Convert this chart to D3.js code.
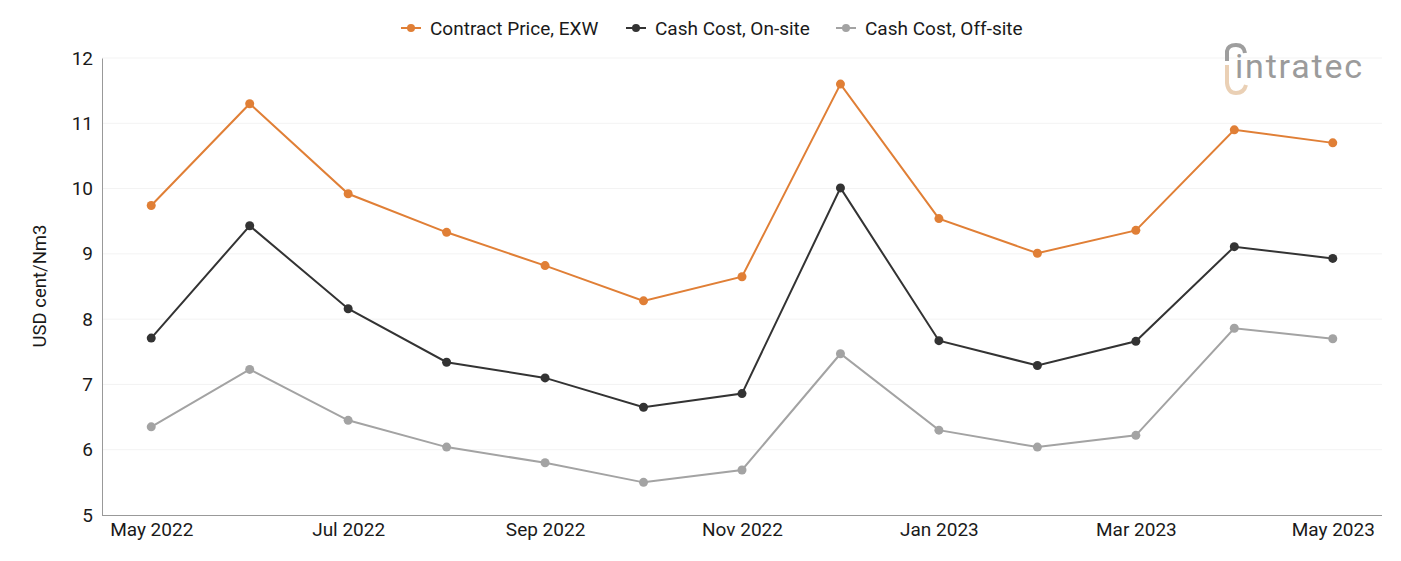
<!DOCTYPE html>
<html><head><meta charset="utf-8">
<script src="https://cdn.jsdelivr.net/npm/d3@7"></script>
<style>body{margin:0;background:#fff;font-family:Roboto,"Open Sans",sans-serif;}</style>
</head><body><svg id="c" width="1401" height="561"></svg>
<script>
const months = ["May 2022","Jun 2022","Jul 2022","Aug 2022","Sep 2022","Oct 2022","Nov 2022","Dec 2022","Jan 2023","Feb 2023","Mar 2023","Apr 2023","May 2023"];
const contractPrice = [9.74,11.30,9.92,9.33,8.82,8.28,8.65,11.60,9.54,9.01,9.36,10.90,10.70];
const cashOnSite = [7.71,9.43,8.16,7.34,7.10,6.65,6.86,10.01,7.67,7.29,7.66,9.11,8.93];
const cashOffSite = [6.35,7.23,6.45,6.04,5.80,5.50,5.69,7.47,6.30,6.04,6.22,7.86,7.70];
const seriesNames = ["Contract Price, EXW","Cash Cost, On-site","Cash Cost, Off-site"];
const seriesColors = ["#e07f36","#333333","#a3a3a3"];
const yTicks = [5,6,7,8,9,10,11,12];
const xTickLabels = ["May 2022","Jul 2022","Sep 2022","Nov 2022","Jan 2023","Mar 2023","May 2023"];

const svg = d3.select("#c");
const m = {l:102, r:1382, t:58, b:515};
const x = d3.scalePoint().domain(months).range([m.l, m.r]).padding(0.5);
const y = d3.scaleLinear().domain([5,12]).range([m.b, m.t]);
const txt = "#1a1a1a";

svg.append("g").selectAll("line").data(yTicks.filter(d=>d>5)).join("line")
  .attr("x1", m.l).attr("x2", m.r).attr("y1", d=>y(d)).attr("y2", d=>y(d))
  .attr("stroke", "#f3f3f3").attr("stroke-width", 1);

const yAxis = svg.append("g").attr("transform",`translate(${m.l},0)`)
  .call(d3.axisLeft(y).tickValues(yTicks).tickSize(0).tickPadding(9).tickFormat(d3.format("d")));
yAxis.select(".domain").attr("stroke","#999");
yAxis.selectAll("text").attr("font-size",19).attr("fill",txt).attr("font-family","Roboto");

const xAxis = svg.append("g").attr("transform",`translate(0,${m.b})`)
  .call(d3.axisBottom(x).tickValues(xTickLabels).tickSize(0).tickPadding(8));
xAxis.select(".domain").attr("stroke","#999").attr("d", `M${m.l},0.5H${m.r}`);
xAxis.selectAll("text").attr("font-size",19).attr("fill",txt).attr("font-family","Roboto");

svg.append("text").attr("transform","translate(46,286) rotate(-90)")
  .attr("text-anchor","middle").attr("font-size",18.5).attr("fill",txt)
  .attr("font-family","Roboto").text("USD cent/Nm3");

const data = [contractPrice, cashOnSite, cashOffSite];
const line = d3.line().x((d,i)=>x(months[i])).y(d=>y(d));
data.forEach((vals,k)=>{
  svg.append("path").datum(vals).attr("d", line).attr("fill","none")
    .attr("stroke", seriesColors[k]).attr("stroke-width", 2);
  svg.append("g").selectAll("circle").data(vals).join("circle")
    .attr("cx",(d,i)=>x(months[i])).attr("cy", d=>y(d)).attr("r",4.5)
    .attr("fill", seriesColors[k]);
});

const legX = [401, 626, 836];
seriesNames.forEach((n,k)=>{
  const g = svg.append("g").attr("transform",`translate(${legX[k]},28)`);
  g.append("line").attr("x1",0).attr("x2",20).attr("stroke",seriesColors[k]).attr("stroke-width",2);
  g.append("circle").attr("cx",10).attr("r",4).attr("fill",seriesColors[k]);
  g.append("text").attr("x",29).attr("y",6.5).attr("font-size",19).attr("fill",txt)
    .attr("font-family","Roboto").text(n);
});

const lg = svg.append("g").attr("transform","translate(1224,45)");
lg.append("path").attr("d","M3,16 L3,6 Q4,0 12,0 Q20,0 21,8").attr("fill","none").attr("stroke","#9e9e9e").attr("stroke-width",4);
lg.append("path").attr("d","M3,20 L3,38 Q4,48 12,48 Q20,48 22,40").attr("fill","none").attr("stroke","#ead0b5").attr("stroke-width",4);
lg.append("text").attr("x",11).attr("y",33).attr("font-size",34).attr("fill","#9b9b9b")
  .attr("font-family","Roboto").attr("letter-spacing",1.8).text("intratec");
</script></body></html>
